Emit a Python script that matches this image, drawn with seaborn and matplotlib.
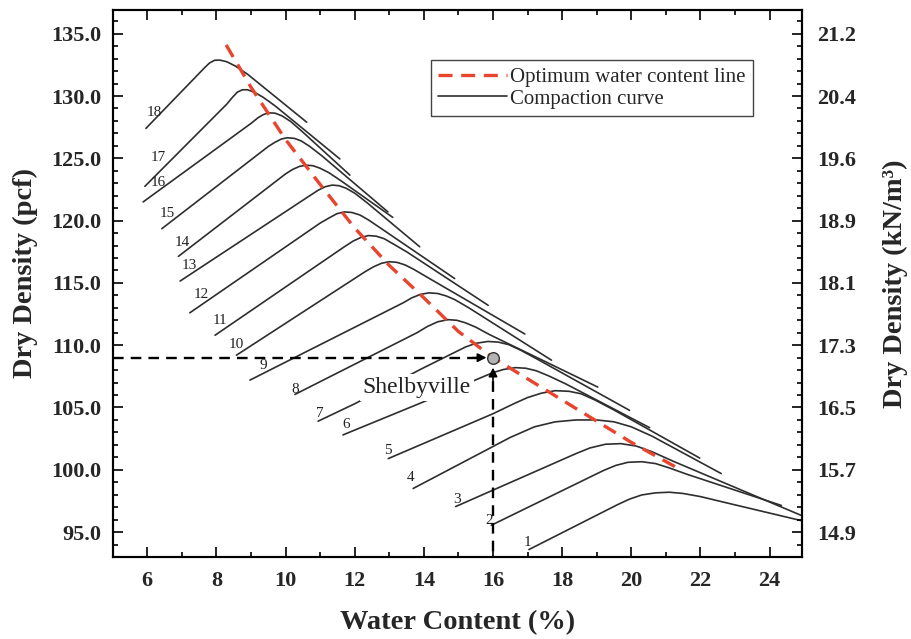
import matplotlib
matplotlib.use("Agg")
import matplotlib.pyplot as plt
from matplotlib.lines import Line2D
from matplotlib.ticker import MultipleLocator
import pandas as pd
import seaborn as sns

# ---------------- data ----------------
curve_ids = list(range(1, 19))

# water content (%) along each compaction curve
curve_water = [
    [17.04, 19.6, 19.95, 20.3, 20.7, 21.1, 21.5, 22.0, 22.6, 24.95],        # 1
    [15.95, 19.2, 19.55, 19.9, 20.3, 20.7, 21.1, 21.6, 24.34],              # 2
    [14.92, 18.4, 18.8, 19.25, 19.7, 20.15, 20.6, 21.2, 24.95],             # 3
    [13.69, 16.5, 17.2, 17.8, 18.4, 19.0, 19.5, 20.0, 20.6, 22.6],          # 4
    [12.97, 16.0, 16.6, 17.0, 17.4, 17.8, 18.2, 18.55, 18.95, 19.5, 21.98], # 5
    [11.66, 13.9, 15.7, 16.0, 16.3, 16.65, 16.95, 17.25, 17.6, 18.1, 20.53],  # 6
    [10.94, 12.0, 13.93, 14.8, 15.2, 15.5, 15.85, 16.15, 16.45, 16.8, 17.3, 19.95],  # 7
    [10.27, 13.8, 14.1, 14.4, 14.7, 14.95, 15.2, 15.5, 15.9, 19.03],        # 8
    [8.97, 13.4, 13.65, 13.9, 14.15, 14.4, 14.65, 14.9, 15.3, 17.69],       # 9
    [8.58, 12.3, 12.55, 12.78, 13.0, 13.22, 13.45, 13.7, 14.1, 16.92],      # 10
    [7.96, 11.7, 11.95, 12.18, 12.4, 12.62, 12.85, 13.1, 13.5, 15.86],      # 11
    [7.23, 11.0, 11.25, 11.48, 11.7, 11.92, 12.15, 12.4, 12.8, 14.89],      # 12
    [6.95, 10.7, 10.95, 11.15, 11.35, 11.55, 11.75, 12.0, 12.35, 13.88],    # 13
    [6.90, 10.0, 10.2, 10.4, 10.6, 10.8, 11.0, 11.25, 11.6, 13.10],         # 14
    [6.42, 9.5, 9.7, 9.88, 10.05, 10.25, 10.45, 10.7, 11.05, 12.96],        # 15
    [5.88, 9.0, 9.2, 9.35, 9.5, 9.7, 9.9, 10.15, 10.5, 11.86],              # 16
    [5.93, 8.3, 8.45, 8.6, 8.75, 8.9, 9.1, 9.35, 9.7, 11.57],               # 17
    [5.96, 7.65, 7.8, 7.95, 8.1, 8.3, 8.55, 8.9, 10.61],                    # 18
]

# dry density (pcf) along each compaction curve
curve_density = [
    [93.6, 97.2, 97.65, 97.98, 98.15, 98.2, 98.1, 97.85, 97.45, 95.9],              # 1
    [95.55, 99.95, 100.35, 100.6, 100.65, 100.5, 100.15, 99.65, 97.14],             # 2
    [97.05, 101.3, 101.75, 102.05, 102.1, 101.9, 101.45, 100.7, 96.3],              # 3
    [98.5, 102.6, 103.45, 103.85, 104.0, 104.0, 103.85, 103.45, 102.7, 99.7],       # 4
    [100.9, 104.5, 105.3, 105.8, 106.15, 106.35, 106.3, 106.1, 105.6, 104.8, 100.94],  # 5
    [102.8, 105.35, 107.45, 107.8, 108.05, 108.2, 108.15, 107.95, 107.55, 106.9, 103.38],  # 6
    [103.9, 105.3, 108.1, 109.3, 109.85, 110.15, 110.3, 110.25, 110.05, 109.6, 108.85, 104.77],  # 7
    [106.05, 111.0, 111.5, 111.88, 112.05, 112.0, 111.8, 111.45, 110.85, 106.64],   # 8
    [107.2, 113.4, 113.8, 114.08, 114.2, 114.15, 113.95, 113.65, 113.0, 108.8],     # 9
    [109.2, 115.9, 116.3, 116.58, 116.7, 116.65, 116.45, 116.1, 115.45, 110.9],     # 10
    [110.8, 117.9, 118.35, 118.65, 118.8, 118.75, 118.55, 118.15, 117.5, 113.2],    # 11
    [112.6, 119.8, 120.2, 120.55, 120.7, 120.65, 120.45, 120.05, 119.3, 115.35],    # 12
    [115.15, 122.0, 122.45, 122.72, 122.85, 122.8, 122.6, 122.2, 121.45, 117.9],    # 13
    [117.13, 123.75, 124.1, 124.35, 124.45, 124.4, 124.2, 123.85, 123.2, 120.26],   # 14
    [119.35, 125.95, 126.3, 126.55, 126.65, 126.6, 126.4, 125.95, 125.2, 120.7],    # 15
    [121.5, 127.8, 128.25, 128.5, 128.65, 128.62, 128.4, 127.95, 127.1, 123.65],    # 16
    [122.75, 129.35, 129.85, 130.3, 130.5, 130.5, 130.3, 129.9, 129.2, 124.95],     # 17
    [127.4, 132.25, 132.65, 132.87, 132.88, 132.75, 132.4, 131.75, 127.9],          # 18
]

# optimum water content line
opt_water = [8.28, 9.0, 10.0, 11.0, 12.0, 13.0, 14.0, 15.0, 16.0, 17.0, 18.0, 19.0, 20.0, 21.3]
opt_density = [134.1, 130.7, 126.5, 122.9, 119.4, 116.4, 113.8, 111.1, 109.0, 107.3, 105.6, 103.9, 102.2, 100.2]

# Shelbyville sample
site_name = "Shelbyville"
site_water = 16.0
site_density = 109.0

# axis ticks: left in pcf, right in kN/m3
pcf_ticks = [95.0, 100.0, 105.0, 110.0, 115.0, 120.0, 125.0, 130.0, 135.0]
kn_ticks = [14.9, 15.7, 16.5, 17.3, 18.1, 18.9, 19.6, 20.4, 21.2]
water_ticks = [6, 8, 10, 12, 14, 16, 18, 20, 22, 24]

# label nudges (points) for the curve numbers, in curve order 1..18
number_offsets = [(-1.4, 5.0), (-1.4, 3.6), (0.7, 5.0), (-2.2, 7.9), (0.0, 5.8),
                  (2.2, 7.2), (1.4, 5.8), (0.0, 3.8), (9.4, 10.8), (0.0, 7.9),
                  (3.6, 10.8), (8.6, 13.0), (6.5, 11.5), (2.9, 10.0), (4.3, 10.8),
                  (10.8, 13.7), (10.0, 20.9), (5.8, 11.5)]

# ---------------- style ----------------
sns.set_theme(style="ticks")
plt.rcParams["font.family"] = ["Liberation Serif", "DejaVu Serif"]

CURVE_C = "#2e2e2e"
OPT_C = "#e8442e"

fig = plt.figure(figsize=(9.12, 6.39), dpi=100)
ax = fig.add_axes([0.1236, 0.1283, 0.7555, 0.856])

rows = []
for cid, ws, ds in zip(curve_ids, curve_water, curve_density):
    for w, d in zip(ws, ds):
        rows.append((cid, w, d))
curves = pd.DataFrame(rows, columns=["curve", "water", "density"])

sns.lineplot(data=curves, x="water", y="density", units="curve",
             estimator=None, sort=False, color=CURVE_C, lw=1.2,
             ax=ax, legend=False, zorder=2)

opt = pd.DataFrame({"water": opt_water, "density": opt_density})
sns.lineplot(data=opt, x="water", y="density", estimator=None, sort=False,
             color=OPT_C, lw=2.4, linestyle=(0, (4.2, 2.6)), ax=ax,
             legend=False, zorder=3)

# curve numbers next to the first point of each curve
for cid, ws, ds, off in zip(curve_ids, curve_water, curve_density, number_offsets):
    ax.annotate(str(cid), xy=(ws[0], ds[0]), xytext=off,
                textcoords="offset points", ha="center", va="center",
                fontsize=11, color="#222222", zorder=4)

# Shelbyville guide lines with arrowheads
ax.plot([5.0, site_water - 0.25], [site_density, site_density], color="black",
        lw=1.7, ls=(0, (4.5, 3)), zorder=6)
ax.annotate("", xy=(site_water - 0.19, site_density), xytext=(site_water - 0.6, site_density),
            arrowprops=dict(arrowstyle="-|>", color="black", lw=1.2,
                            mutation_scale=13, shrinkA=0, shrinkB=0), zorder=7)
ax.plot([site_water, site_water], [92.0, site_density - 1.2], color="black",
        lw=1.7, ls=(0, (4.5, 3)), zorder=6)
ax.annotate("", xy=(site_water, site_density - 0.8), xytext=(site_water, site_density - 2.2),
            arrowprops=dict(arrowstyle="-|>", color="black", lw=1.2,
                            mutation_scale=13, shrinkA=0, shrinkB=0), zorder=7)
sns.scatterplot(x=[site_water], y=[site_density], s=70, color="#b4b4b4",
                edgecolor="#333333", linewidth=1.0, ax=ax, zorder=8, legend=False)
ax.text(13.79, 106.6, site_name, ha="center", va="center", fontsize=17,
        color="#222222", zorder=5,
        bbox=dict(boxstyle="square,pad=0.12", fc="white", ec="none"))

# axes
ax.set_xlim(5.0, 24.93)
ax.set_ylim(93.0, 136.9)
ax.set_xticks(water_ticks)
ax.xaxis.set_minor_locator(MultipleLocator(1))
ax.set_yticks(pcf_ticks)
ax.set_yticklabels([f"{v:.1f}" for v in pcf_ticks])
ax.yaxis.set_minor_locator(MultipleLocator(1))
ax.tick_params(which="both", direction="in", top=True, right=False,
               width=1.2, color="black")
ax.tick_params(which="major", length=7)
ax.tick_params(which="minor", length=3.6)
ax.tick_params(axis="x", which="major", pad=10)
ax.tick_params(axis="y", which="major", pad=8)
for lab in ax.get_xticklabels() + ax.get_yticklabels():
    lab.set_fontsize(16)
    lab.set_fontweight("bold")
for sp in ax.spines.values():
    sp.set_linewidth(1.5)
    sp.set_color("black")

ax.set_xlabel("Water Content (%)", fontsize=20.5, fontweight="bold")
ax.xaxis.set_label_coords(0.5, -0.097)
ax.set_ylabel("Dry Density (pcf)", fontsize=20.5, fontweight="bold")
ax.yaxis.set_label_coords(-0.108, 0.52)

twin = ax.twinx()
twin.set_ylim(ax.get_ylim())
twin.set_yticks(pcf_ticks)
twin.set_yticklabels([f"{v:.1f}" for v in kn_ticks])
twin.yaxis.set_minor_locator(MultipleLocator(1))
twin.tick_params(which="both", direction="in", width=1.2, color="black")
twin.tick_params(which="major", length=7, pad=11)
twin.tick_params(which="minor", length=3.6)
for lab in twin.get_yticklabels():
    lab.set_fontsize(16)
    lab.set_fontweight("bold")
for sp in twin.spines.values():
    sp.set_linewidth(1.5)
    sp.set_color("black")
twin.set_ylabel("Dry Density (kN/m\u00b3)", fontsize=20.5, fontweight="bold")
twin.yaxis.set_label_coords(1.117, 0.5)

handles = [
    Line2D([], [], color=OPT_C, lw=2.4, ls=(0, (4.2, 2.6))),
    Line2D([], [], color=CURVE_C, lw=1.2),
]
leg = ax.legend(handles, ["Optimum water content line", "Compaction curve"],
                loc="upper right", bbox_to_anchor=(0.929, 0.9086),
                borderaxespad=0, frameon=True, fancybox=False, framealpha=1,
                edgecolor="#444444", fontsize=15, handlelength=3.3,
                handletextpad=0.15, borderpad=0.35, labelspacing=0.1)
leg.get_frame().set_linewidth(1.0)

fig.savefig("out.png", dpi=100, facecolor="white")
